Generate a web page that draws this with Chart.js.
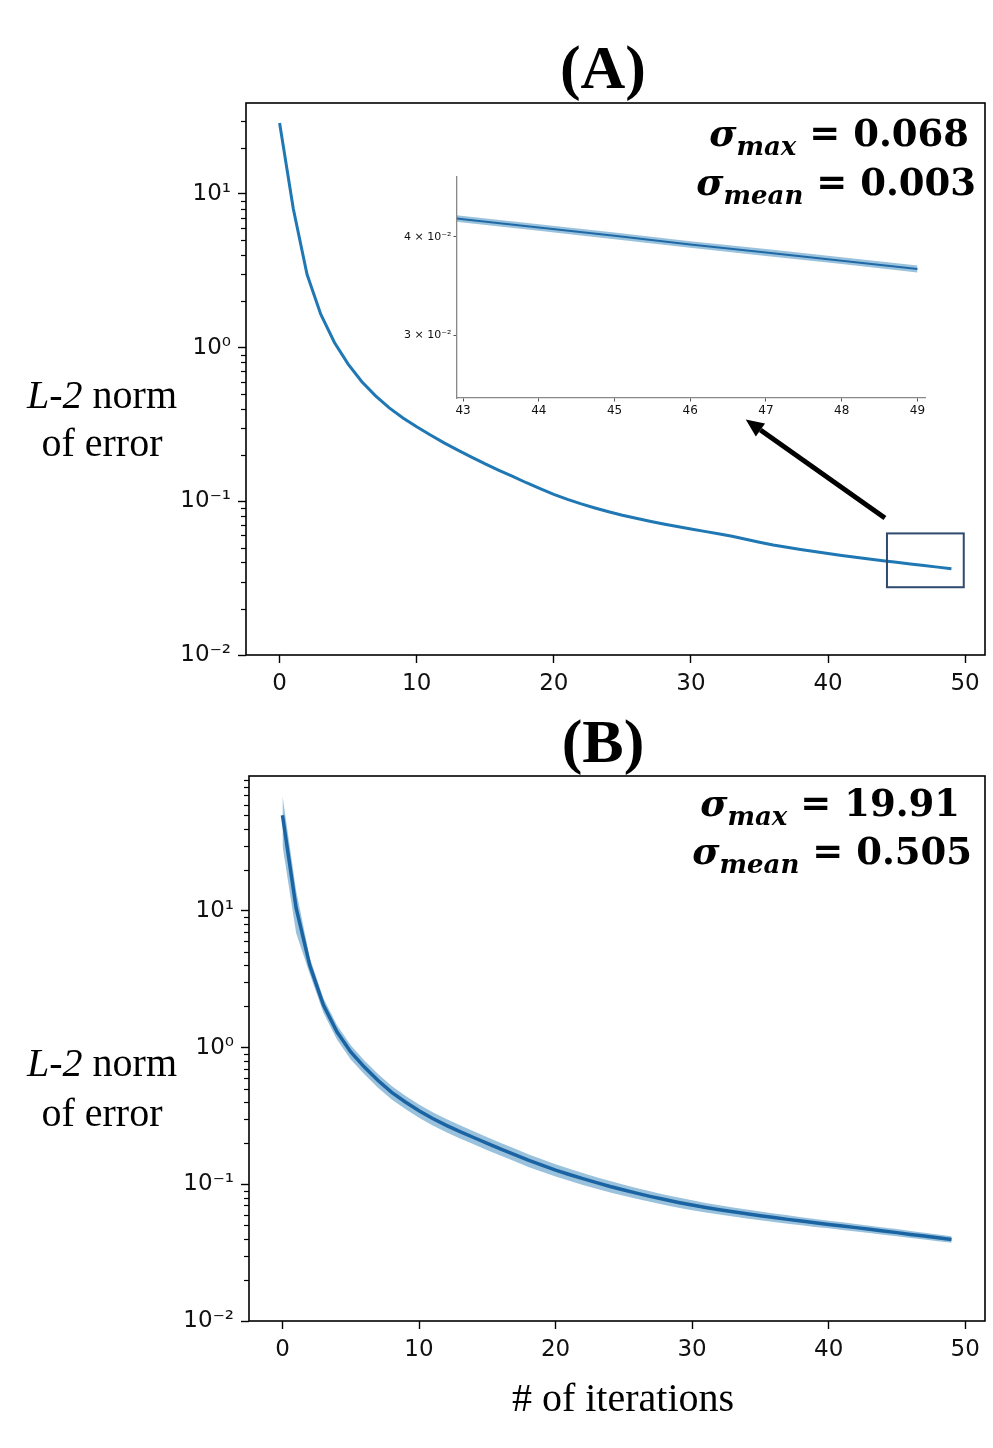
<!DOCTYPE html>
<html>
<head>
<meta charset="utf-8">
<script src="https://cdn.jsdelivr.net/npm/chart.js@4.4.0/dist/chart.umd.min.js"></script>
<style>
  html, body { margin: 0; padding: 0; background: #fff; }
  body { width: 993px; height: 1448px; position: relative; overflow: hidden; }
  canvas { position: absolute; }
  .txt { position: absolute; white-space: nowrap; color: #000; line-height: 1; }
  .title { font-family: "Liberation Serif", serif; font-weight: bold; font-size: 62px; width: 200px; text-align: center; }
  .ylab { font-family: "Liberation Serif", serif; font-size: 40px; width: 200px; text-align: center; }
  .sig { font-family: "DejaVu Serif", serif; font-weight: bold; font-size: 37px; text-align: right; }
  .sig sub { font-size: 26px; font-style: italic; vertical-align: -9px; line-height: 0; }
  .sig i { font-style: italic; }
</style>
</head>
<body>
<canvas id="chartA" width="993" height="720" style="left:0;top:0"></canvas>
<canvas id="chartB" width="993" height="728" style="left:0;top:720px"></canvas>
<canvas id="inset" width="545" height="255" style="left:400px;top:168px"></canvas>

<div class="txt title" style="left:503px;top:36px">(A)</div>
<div class="txt sig" style="right:24px;top:115px"><i>σ</i><sub>max</sub> = 0.068</div>
<div class="txt sig" style="right:17px;top:164px"><i>σ</i><sub>mean</sub> = 0.003</div>
<div class="txt ylab" style="left:2px;top:375px"><i>L-2</i> norm</div>
<div class="txt ylab" style="left:2px;top:423px">of error</div>

<div class="txt title" style="left:503px;top:710px">(B)</div>
<div class="txt sig" style="right:33px;top:785px"><i>σ</i><sub>max</sub> = 19.91</div>
<div class="txt sig" style="right:21px;top:833px"><i>σ</i><sub>mean</sub> = 0.505</div>
<div class="txt ylab" style="left:2px;top:1043px"><i>L-2</i> norm</div>
<div class="txt ylab" style="left:2px;top:1093px">of error</div>
<div class="txt ylab" style="left:473px;top:1378px;width:300px"># of iterations</div>

<script>
// iterations on the x axis
var iterations = [0, 1, 2, 3, 4, 5, 6, 7, 8, 9,
  10, 11, 12, 13, 14, 15, 16, 17, 18, 19,
  20, 21, 22, 23, 24, 25, 26, 27, 28, 29,
  30, 31, 32, 33, 34, 35, 36, 37, 38, 39,
  40, 41, 42, 43, 44, 45, 46, 47, 48, 49];

// (A) mean L-2 error and its std
var meanA = [28.9, 8.0, 3.0, 1.65, 1.08, 0.78, 0.60, 0.485, 0.405, 0.348,
  0.305, 0.270, 0.240, 0.215, 0.194, 0.175, 0.159, 0.145, 0.132, 0.121,
  0.111, 0.103, 0.0962, 0.0905, 0.0855, 0.0812, 0.0775, 0.0742, 0.0712, 0.0685,
  0.0660, 0.0637, 0.0615, 0.0592, 0.0566, 0.0542, 0.0520, 0.0502, 0.0486, 0.0471,
  0.0457, 0.0444, 0.0432, 0.0421, 0.0411, 0.0401, 0.0391, 0.0382, 0.0373, 0.0364];
var stdA = [0.068, 0.021, 0.0075, 0.0042, 0.0028, 0.0021, 0.0017, 0.0014, 0.0012, 0.0011,
  0.0010, 0.0009, 0.00085, 0.0008, 0.00075, 0.0007, 0.00068, 0.00065, 0.00062, 0.0006,
  0.00058, 0.00056, 0.00055, 0.00053, 0.00052, 0.0005, 0.00049, 0.00048, 0.00047, 0.00046,
  0.00046, 0.00045, 0.00045, 0.00044, 0.00044, 0.00043, 0.00043, 0.00042, 0.00042, 0.00041,
  0.00041, 0.0004, 0.0004, 0.0004, 0.00039, 0.00039, 0.00038, 0.00038, 0.00037, 0.00037];

// (B) mean L-2 error and its std
var meanB = [50, 10.5, 4.0, 2.05, 1.3, 0.93, 0.72, 0.575, 0.470, 0.400,
  0.345, 0.303, 0.270, 0.243, 0.220, 0.199, 0.181, 0.165, 0.150, 0.138,
  0.127, 0.118, 0.110, 0.1028, 0.0963, 0.0908, 0.0858, 0.0813, 0.0773, 0.0737,
  0.0705, 0.0677, 0.0652, 0.0629, 0.0608, 0.0589, 0.0571, 0.0554, 0.0538, 0.0523,
  0.0509, 0.0495, 0.0482, 0.0469, 0.0456, 0.0443, 0.0430, 0.0418, 0.0406, 0.0395];
var stdB = [19.91, 3.6, 0.55, 0.25, 0.16, 0.11, 0.083, 0.066, 0.053, 0.045,
  0.038, 0.034, 0.030, 0.027, 0.024, 0.0215, 0.0195, 0.0175, 0.016, 0.0145,
  0.0132, 0.012, 0.011, 0.010, 0.0092, 0.0085, 0.0078, 0.0072, 0.0067, 0.0062,
  0.0058, 0.0054, 0.0051, 0.0048, 0.0045, 0.0043, 0.0041, 0.0039, 0.0037, 0.0035,
  0.0033, 0.0032, 0.0030, 0.0029, 0.0028, 0.0027, 0.0025, 0.0024, 0.0023, 0.0022];

// tick values and labels
var xTicks = [0, 10, 20, 30, 40, 50];
var yMajor = [0.01, 0.1, 1, 10];
var yMajorLabels = ['10\u207B\u00B2', '10\u207B\u00B9', '10\u2070', '10\u00B9'];
var yMinorA = [0.02, 0.03, 0.04, 0.05, 0.06, 0.07, 0.08, 0.09,
  0.2, 0.3, 0.4, 0.5, 0.6, 0.7, 0.8, 0.9,
  2, 3, 4, 5, 6, 7, 8, 9, 20, 30];
var yMinorB = [0.02, 0.03, 0.04, 0.05, 0.06, 0.07, 0.08, 0.09,
  0.2, 0.3, 0.4, 0.5, 0.6, 0.7, 0.8, 0.9,
  2, 3, 4, 5, 6, 7, 8, 9, 20, 30, 40, 50, 60, 70, 80, 90];
var insetXTicks = [43, 44, 45, 46, 47, 48, 49];
var insetYTicks = [0.03, 0.04];
var insetYLabels = ['3 \u00D7 10\u207B\u00B2', '4 \u00D7 10\u207B\u00B2'];

var BLUE = '#1f77b4';
var BAND = 'rgba(31, 119, 180, 0.45)';

function pts(ys) {
  return iterations.map(function (x, i) { return { x: x, y: ys[i] }; });
}
function upper(m, s) { return m.map(function (v, i) { return v + s[i]; }); }
function lower(m, s) { return m.map(function (v, i) { return v - s[i]; }); }

function bandDatasets(m, s, lineColor, lineWidth) {
  return [
    { data: pts(upper(m, s)), borderWidth: 0, pointRadius: 0, fill: false, order: 2 },
    { data: pts(lower(m, s)), borderWidth: 0, pointRadius: 0, fill: '-1', backgroundColor: BAND, order: 2 },
    { data: pts(m), borderColor: lineColor, borderWidth: lineWidth, pointRadius: 0, fill: false, order: 1 }
  ];
}

function isMajor(v) {
  return yMajor.some(function (m) { return Math.abs(m - v) < m * 1e-6; });
}

// black frame round the plot and short minor ticks on the y axis
var framePlugin = {
  id: 'frame',
  afterDraw: function (chart) {
    var a = chart.chartArea, ctx = chart.ctx, ys = chart.scales.y;
    ctx.save();
    ctx.strokeStyle = '#000';
    ctx.lineWidth = 1.6;
    ctx.strokeRect(a.left, a.top, a.right - a.left, a.bottom - a.top);
    ctx.lineWidth = 1.2;
    ys.ticks.forEach(function (t) {
      if (isMajor(t.value)) return;
      var py = Math.round(ys.getPixelForValue(t.value)) + 0.5;
      ctx.beginPath();
      ctx.moveTo(a.left - 5, py);
      ctx.lineTo(a.left, py);
      ctx.stroke();
    });
    ctx.restore();
  }
};

// zoom box and arrow towards the inset
var zoomBox = { x0: 44.3, x1: 49.9, y0: 0.0276, y1: 0.0618 };
var arrow = { fromX: 44.15, fromY: 0.0778, toX: 34.0, toY: 0.34 };
var annotPlugin = {
  id: 'annot',
  afterDraw: function (chart) {
    var xs = chart.scales.x, ys = chart.scales.y, ctx = chart.ctx;
    ctx.save();
    var l = xs.getPixelForValue(zoomBox.x0), r = xs.getPixelForValue(zoomBox.x1);
    var t = ys.getPixelForValue(zoomBox.y1), b = ys.getPixelForValue(zoomBox.y0);
    ctx.strokeStyle = '#2f4a6f';
    ctx.lineWidth = 2;
    ctx.strokeRect(l, t, r - l, b - t);

    var x1 = xs.getPixelForValue(arrow.fromX), y1 = ys.getPixelForValue(arrow.fromY);
    var x2 = xs.getPixelForValue(arrow.toX), y2 = ys.getPixelForValue(arrow.toY);
    var ang = Math.atan2(y2 - y1, x2 - x1);
    var hl = 18, hw = 8;
    var bx = x2 - hl * Math.cos(ang), by = y2 - hl * Math.sin(ang);
    ctx.strokeStyle = '#000';
    ctx.lineWidth = 5;
    ctx.beginPath();
    ctx.moveTo(x1, y1);
    ctx.lineTo(bx, by);
    ctx.stroke();
    ctx.fillStyle = '#000';
    ctx.beginPath();
    ctx.moveTo(x2, y2);
    ctx.lineTo(bx + hw * Math.sin(ang), by - hw * Math.cos(ang));
    ctx.lineTo(bx - hw * Math.sin(ang), by + hw * Math.cos(ang));
    ctx.closePath();
    ctx.fill();
    ctx.restore();
  }
};

function mainOptions(yMax, minorTicks, yWidth, padTop, padBottom) {
  return {
    responsive: false,
    animation: false,
    layout: { padding: { left: 0, top: padTop, right: 8, bottom: padBottom } },
    plugins: { legend: { display: false }, tooltip: { enabled: false } },
    scales: {
      x: {
        type: 'linear', min: -2.45, max: 51.45,
        afterBuildTicks: function (s) { s.ticks = xTicks.map(function (v) { return { value: v }; }); },
        afterFit: function (s) { s.height = 45; },
        grid: { drawOnChartArea: false, drawTicks: true, tickLength: 8, tickColor: '#000', tickWidth: 1.4 },
        border: { display: false },
        ticks: { color: '#111', padding: 7, font: { family: 'DejaVu Sans', size: 23 } }
      },
      y: {
        type: 'logarithmic', min: 0.01, max: yMax,
        afterBuildTicks: function (s) {
          s.ticks = yMajor.concat(minorTicks).sort(function (a, b) { return a - b; })
            .map(function (v) { return { value: v }; });
        },
        afterFit: function (s) { s.width = yWidth; },
        grid: {
          drawOnChartArea: false, drawTicks: true, tickLength: 8, tickWidth: 1.4,
          tickColor: function (c) { return isMajor(c.tick.value) ? '#000' : 'rgba(0,0,0,0)'; }
        },
        border: { display: false },
        ticks: {
          color: '#111', padding: 7, autoSkip: false,
          font: { family: 'DejaVu Sans', size: 23 },
          callback: function (v) {
            var i = yMajor.findIndex(function (m) { return Math.abs(m - v) < m * 1e-6; });
            return i >= 0 ? yMajorLabels[i] : '';
          }
        }
      }
    }
  };
}

var chartA = new Chart(document.getElementById('chartA'), {
  type: 'line',
  data: { datasets: bandDatasets(meanA, stdA, BLUE, 3) },
  options: mainOptions(39, yMinorA, 246, 103, 20),
  plugins: [framePlugin, annotPlugin]
});

var chartB = new Chart(document.getElementById('chartB'), {
  type: 'line',
  data: { datasets: bandDatasets(meanB, stdB, '#1b64a3', 3.5) },
  options: mainOptions(97, yMinorB, 249, 56, 82),
  plugins: [framePlugin]
});

var inset = new Chart(document.getElementById('inset'), {
  type: 'line',
  data: { datasets: bandDatasets(meanA, stdA, '#1f6aa6', 2) },
  options: {
    responsive: false,
    animation: false,
    layout: { padding: { left: 0, top: 9, right: 20, bottom: 0 } },
    plugins: { legend: { display: false }, tooltip: { enabled: false } },
    scales: {
      x: {
        type: 'linear', min: 42.92, max: 49.1,
        afterBuildTicks: function (s) { s.ticks = insetXTicks.map(function (v) { return { value: v }; }); },
        afterFit: function (s) { s.height = 25; },
        grid: { drawOnChartArea: false, drawTicks: true, tickLength: 3.5, tickColor: '#555', tickWidth: 1 },
        border: { display: true, color: '#888', width: 1.3 },
        ticks: { color: '#111', padding: 2, font: { family: 'DejaVu Sans', size: 12 } }
      },
      y: {
        type: 'logarithmic', min: 0.0250, max: 0.0476,
        afterBuildTicks: function (s) { s.ticks = insetYTicks.map(function (v) { return { value: v }; }); },
        afterFit: function (s) { s.width = 57; },
        grid: { drawOnChartArea: false, drawTicks: true, tickLength: 3.5, tickColor: '#555', tickWidth: 1 },
        border: { display: true, color: '#888', width: 1.3 },
        ticks: {
          color: '#111', padding: 2, autoSkip: false,
          font: { family: 'DejaVu Sans', size: 11 },
          callback: function (v) {
            var i = insetYTicks.findIndex(function (m) { return Math.abs(m - v) < 1e-9; });
            return i >= 0 ? insetYLabels[i] : '';
          }
        }
      }
    }
  }
});
</script>
</body>
</html>
